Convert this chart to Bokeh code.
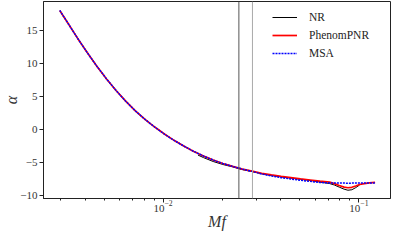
from bokeh.plotting import figure
from bokeh.models import FixedTicker, Span, Legend, LegendItem
from bokeh.embed import file_html
from bokeh.resources import INLINE

# PhenomPNR
mf_phenom = [0.002966, 0.003262, 0.003655, 0.004096, 0.004589, 0.005143, 0.005765,
             0.006460, 0.007240, 0.008113, 0.009097, 0.010195, 0.011425, 0.012805,
             0.014350, 0.016082, 0.018024, 0.020198, 0.022646, 0.025380, 0.028445,
             0.031880, 0.035727, 0.040040, 0.044875, 0.050293, 0.056364, 0.063168,
             0.070795, 0.074946, 0.079329, 0.083986, 0.087896, 0.092003, 0.096313,
             0.10081, 0.10671, 0.11298, 0.12099]
alpha_phenom = [18.02, 16.12, 13.83, 11.65, 9.59, 7.67, 5.89,
                4.27, 2.80, 1.51, 0.36, -0.70, -1.65, -2.50,
                -3.29, -3.98, -4.59, -5.11, -5.55, -5.96, -6.26,
                -6.59, -6.84, -7.06, -7.24, -7.43, -7.60, -7.77,
                -7.92, -8.15, -8.44, -8.68, -8.78, -8.71, -8.51,
                -8.29, -8.14, -8.04, -7.97]

# MSA
mf_msa = [0.002966, 0.003262, 0.003655, 0.004096, 0.004589, 0.005143, 0.005765,
          0.006460, 0.007240, 0.008113, 0.009097, 0.010195, 0.011425, 0.012805,
          0.014350, 0.016082, 0.018024, 0.020198, 0.022646, 0.025380, 0.028445,
          0.031880, 0.035727, 0.040040, 0.044875, 0.050293, 0.056364, 0.063168,
          0.070795, 0.079329, 0.088500, 0.098500, 0.10950, 0.12099]
alpha_msa = [18.02, 16.12, 13.83, 11.65, 9.59, 7.67, 5.89,
             4.27, 2.80, 1.51, 0.36, -0.70, -1.65, -2.50,
             -3.29, -3.98, -4.59, -5.11, -5.55, -5.96, -6.30,
             -6.69, -7.00, -7.25, -7.45, -7.64, -7.81, -7.97,
             -8.05, -8.07, -8.08, -8.07, -8.06, -8.05]

# NR
mf_nr = [0.015073, 0.016082, 0.018024, 0.020198, 0.022646, 0.025380, 0.028445,
         0.031880, 0.035727, 0.040040, 0.044875, 0.050293, 0.056364, 0.063168,
         0.070795, 0.074946, 0.079329, 0.083986, 0.087896, 0.092003, 0.096313,
         0.10081]
alpha_nr = [-3.84, -4.22, -4.81, -5.26, -5.62, -6.03, -6.33,
            -6.66, -6.91, -7.13, -7.31, -7.50, -7.67, -7.91,
            -8.14, -8.36, -8.68, -8.99, -9.15, -9.08, -8.76,
            -8.36]

x_major_ticks = [0.01, 0.1]
x_minor_ticks = [0.003, 0.004, 0.005, 0.006, 0.007, 0.008, 0.009,
                 0.02, 0.03, 0.04, 0.05, 0.06, 0.07, 0.08, 0.09]
y_ticks = [-10, -5, 0, 5, 10, 15]
y_labels = {-10: "\u221210", -5: "\u22125", 0: "0", 5: "5", 10: "10", 15: "15"}
vline_positions = [0.02438, 0.02860]
vline_colors = ["#555555", "#aaaaaa"]

FONT = "Liberation Serif"

p = figure(width=391, height=232, x_axis_type="log",
           x_range=(0.00245, 0.145), y_range=(-10.4, 19.37),
           output_backend="svg", toolbar_location=None,
           min_border_left=37, min_border_right=1, min_border_top=1,
           min_border_bottom=30)

p.xgrid.visible = False
p.ygrid.visible = False
p.outline_line_color = "#222222"
p.outline_line_width = 1
p.background_fill_color = "white"
p.border_fill_color = "white"

for pos, col in zip(vline_positions, vline_colors):
    p.add_layout(Span(location=pos, dimension="height", line_color=col, line_width=1))

r_nr = p.line(mf_nr, alpha_nr, line_color="black", line_width=1)
r_ph = p.line(mf_phenom, alpha_phenom, line_color="red", line_width=1.7)
r_msa = p.line(mf_msa, alpha_msa, line_color="blue", line_width=1.5, line_dash="2 1")

xa = p.xaxis[0]
xa.ticker = FixedTicker(ticks=x_major_ticks, minor_ticks=x_minor_ticks)
ya = p.yaxis[0]
ya.ticker = FixedTicker(ticks=y_ticks)
ya.major_label_overrides = y_labels
ya.minor_tick_line_color = None

for ax in (xa, ya):
    ax.axis_line_color = "#222222"
    ax.major_tick_line_color = "#222222"
    ax.major_tick_out = 4
    ax.major_tick_in = 0
    ax.minor_tick_out = 2
    ax.minor_tick_in = 0
    ax.major_label_text_font = FONT
    ax.major_label_text_font_size = "11px"
    ax.major_label_text_color = "#333333"
    ax.major_label_text_line_height = 1.0
    ax.axis_label_text_font = FONT
    ax.axis_label_text_font_style = "italic"
    ax.axis_label_text_font_size = "16px"
    ax.axis_label_text_color = "#333333"
    ax.axis_label_text_line_height = 1.0
xa.minor_tick_line_color = "#222222"
xa.major_label_standoff = -2
xa.axis_label_standoff = -2
ya.major_label_standoff = 2
ya.axis_label_standoff = -3
xa.axis_label = "Mf"
ya.axis_label = "\u03b1"

legend = Legend(items=[LegendItem(label="NR", renderers=[r_nr]),
                       LegendItem(label="PhenomPNR", renderers=[r_ph]),
                       LegendItem(label="MSA", renderers=[r_msa])],
                location="top_right", padding=2, margin=5, spacing=0,
                label_height=18, glyph_height=18, glyph_width=25,
                label_width=74, label_standoff=12, border_line_alpha=0,
                background_fill_alpha=0, label_text_font=FONT,
                label_text_font_size="11.5px", label_text_color="#222222")
p.add_layout(legend)

open("out.html", "w").write(file_html(p, INLINE))
